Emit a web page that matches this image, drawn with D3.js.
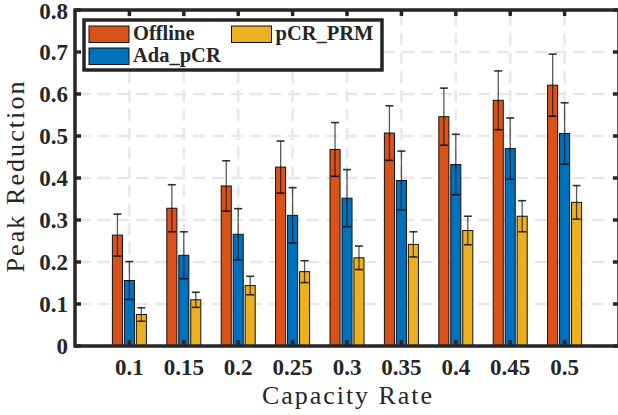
<!DOCTYPE html>
<html>
<head>
<meta charset="utf-8">
<script src="https://cdn.jsdelivr.net/npm/d3@7"></script>
<style>
  body { margin: 0; background: #fff; }
  svg { display: block; font-family: "Liberation Serif", serif; }
</style>
</head>
<body>
<svg id="chart" width="618" height="415"></svg>
<script>
const rates = [0.1, 0.15, 0.2, 0.25, 0.3, 0.35, 0.4, 0.45, 0.5];
const tickLabels = ['0.1', '0.15', '0.2', '0.25', '0.3', '0.35', '0.4', '0.45', '0.5'];
const yTicks = [0, 0.1, 0.2, 0.3, 0.4, 0.5, 0.6, 0.7, 0.8];

const seriesNames = ['Offline', 'Ada_pCR', 'pCR_PRM'];
const offline = [0.264, 0.328, 0.381, 0.426, 0.468, 0.507, 0.546, 0.585, 0.621];
const offlineErr = [0.050, 0.056, 0.060, 0.062, 0.064, 0.065, 0.068, 0.070, 0.074];
const adaPcr = [0.156, 0.216, 0.266, 0.311, 0.352, 0.394, 0.432, 0.470, 0.506];
const adaPcrErr = [0.045, 0.056, 0.061, 0.066, 0.068, 0.070, 0.072, 0.073, 0.073];
const pcrPrm = [0.075, 0.110, 0.144, 0.177, 0.210, 0.242, 0.275, 0.309, 0.342];
const pcrPrmErr = [0.016, 0.018, 0.022, 0.026, 0.028, 0.030, 0.034, 0.037, 0.040];

const COLORS = { 'Offline': '#D95319', 'Ada_pCR': '#0072BD', 'pCR_PRM': '#EDB120' };

const series = [
  { key: 'Offline', values: offline, errs: offlineErr },
  { key: 'Ada_pCR', values: adaPcr, errs: adaPcrErr },
  { key: 'pCR_PRM', values: pcrPrm, errs: pcrPrmErr }
];

const margin = { top: 10, right: -1, bottom: 69, left: 75 };
const W = 618, H = 415;
const width = W - margin.left - margin.right;
const height = H - margin.top - margin.bottom;
const axisColor = '#262626';

const svg = d3.select('#chart');
const g = svg.append('g').attr('transform', `translate(${margin.left},${margin.top})`);

const x = d3.scaleLinear().domain([0.05, 0.55]).range([0, width]);
const y = d3.scaleLinear().domain([0, 0.8]).range([height, 0]);
const step = 0.05;
const offsets = [-0.22, 0, 0.22];
const barW = x(step) - x(0);
const bw = barW * 0.185;

// grid
g.append('g').selectAll('line').data(yTicks.slice(1, -1)).enter().append('line')
  .attr('x1', 0).attr('x2', width)
  .attr('y1', d => y(d)).attr('y2', d => y(d))
  .attr('stroke', '#e8e8e8').attr('stroke-width', 2.5)
  .attr('stroke-dasharray', '12,7').attr('stroke-dashoffset', -4);
g.append('g').selectAll('line').data(rates).enter().append('line')
  .attr('x1', d => x(d)).attr('x2', d => x(d))
  .attr('y1', 0).attr('y2', height)
  .attr('stroke', '#e8e8e8').attr('stroke-width', 2.5)
  .attr('stroke-dasharray', '12,7').attr('stroke-dashoffset', -4);

// bars
series.forEach((s, si) => {
  const sg = g.append('g');
  sg.selectAll('rect').data(s.values).enter().append('rect')
    .attr('x', (d, i) => x(rates[i]) + offsets[si] * barW - bw / 2)
    .attr('y', d => y(d))
    .attr('width', bw)
    .attr('height', d => height - y(d))
    .attr('fill', COLORS[s.key])
    .attr('stroke', '#111').attr('stroke-width', 1);
});

// error bars
series.forEach((s, si) => {
  const eg = g.append('g');
  s.values.forEach((v, i) => {
    const cx = x(rates[i]) + offsets[si] * barW;
    const lo = y(v - s.errs[i]), hi = y(v + s.errs[i]);
    eg.append('line').attr('x1', cx).attr('x2', cx).attr('y1', lo).attr('y2', hi)
      .attr('stroke', '#000').attr('stroke-opacity', 0.65).attr('stroke-width', 1.3);
    [lo, hi].forEach(yy => {
      eg.append('line').attr('x1', cx - 4).attr('x2', cx + 4).attr('y1', yy).attr('y2', yy)
        .attr('stroke', '#000').attr('stroke-opacity', 0.8).attr('stroke-width', 1.6);
    });
  });
});

// axes box and ticks
const tickLen = 6;
const ax = g.append('g').attr('stroke', axisColor).attr('stroke-width', 3.5);
ax.append('rect').attr('x', 0).attr('y', 0).attr('width', width).attr('height', height)
  .attr('fill', 'none');
yTicks.forEach(t => {
  ax.append('line').attr('x1', 0).attr('x2', tickLen).attr('y1', y(t)).attr('y2', y(t));
  ax.append('line').attr('x1', width).attr('x2', width - tickLen).attr('y1', y(t)).attr('y2', y(t));
});
rates.forEach(r => {
  ax.append('line').attr('x1', x(r)).attr('x2', x(r)).attr('y1', height).attr('y2', height - tickLen);
  ax.append('line').attr('x1', x(r)).attr('x2', x(r)).attr('y1', 0).attr('y2', tickLen);
});

// tick labels
g.append('g').selectAll('text').data(yTicks).enter().append('text')
  .attr('x', -7).attr('y', d => y(d) + (d === 0.8 ? 1 : 0)).attr('dy', '0.35em')
  .attr('text-anchor', 'end').attr('font-weight', 'bold').attr('font-size', 23)
  .attr('fill', axisColor)
  .text(d => d === 0 ? '0' : d3.format('.1f')(d));
g.append('g').selectAll('text').data(rates).enter().append('text')
  .attr('x', d => x(d)).attr('y', height + 29)
  .attr('text-anchor', 'middle').attr('font-weight', 'bold').attr('font-size', 23)
  .attr('fill', axisColor)
  .text((d, i) => tickLabels[i]);

// axis titles
svg.append('text')
  .attr('x', 347).attr('y', 404)
  .attr('text-anchor', 'middle').attr('font-size', 26).attr('fill', axisColor)
  .attr('textLength', 170).attr('lengthAdjust', 'spacing')
  .text('Capacity Rate');
svg.append('text')
  .attr('transform', 'translate(24,177) rotate(-90)')
  .attr('text-anchor', 'middle').attr('font-size', 26).attr('fill', axisColor)
  .attr('textLength', 191).attr('lengthAdjust', 'spacing')
  .text('Peak Reduction');

// legend
const legend = svg.append('g').attr('transform', 'translate(84,20)');
legend.append('rect').attr('x', 0).attr('y', 0).attr('width', 298).attr('height', 50)
  .attr('fill', '#fff').attr('stroke', axisColor).attr('stroke-width', 3.5);
const legendPos = [[5, 6], [5, 28], [147.5, 6]];
const leg = legend.selectAll('g.item').data(seriesNames).enter().append('g')
  .attr('class', 'item')
  .attr('transform', (d, i) => `translate(${legendPos[i][0]},${legendPos[i][1]})`);
leg.append('rect').attr('width', 40).attr('height', 16.5)
  .attr('fill', d => COLORS[d]).attr('stroke', '#111').attr('stroke-width', 1);
leg.append('text').attr('x', 44).attr('y', 14)
  .attr('font-weight', 'bold').attr('font-size', 20.5).attr('fill', axisColor)
  .text(d => d);
</script>
</body>
</html>
